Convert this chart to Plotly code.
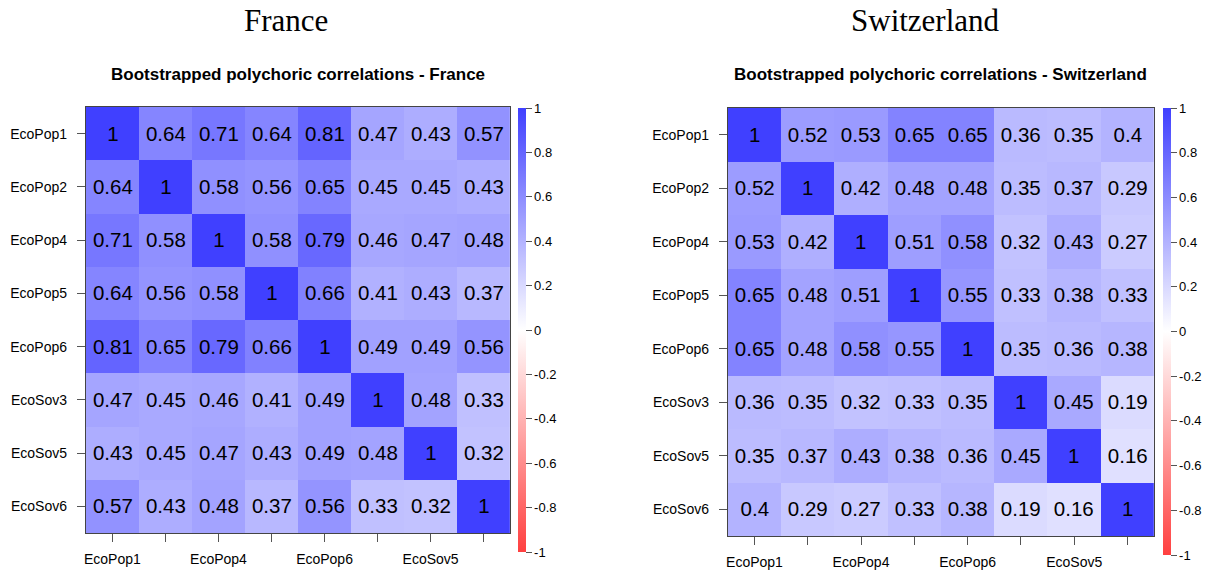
import plotly.graph_objects as go

variables = ["EcoPop1", "EcoPop2", "EcoPop4", "EcoPop5", "EcoPop6", "EcoSov3", "EcoSov5", "EcoSov6"]
x_tick_labels = ["EcoPop1", "", "EcoPop4", "", "EcoPop6", "", "EcoSov5", ""]

france = [
    [1, 0.64, 0.71, 0.64, 0.81, 0.47, 0.43, 0.57],
    [0.64, 1, 0.58, 0.56, 0.65, 0.45, 0.45, 0.43],
    [0.71, 0.58, 1, 0.58, 0.79, 0.46, 0.47, 0.48],
    [0.64, 0.56, 0.58, 1, 0.66, 0.41, 0.43, 0.37],
    [0.81, 0.65, 0.79, 0.66, 1, 0.49, 0.49, 0.56],
    [0.47, 0.45, 0.46, 0.41, 0.49, 1, 0.48, 0.33],
    [0.43, 0.45, 0.47, 0.43, 0.49, 0.48, 1, 0.32],
    [0.57, 0.43, 0.48, 0.37, 0.56, 0.33, 0.32, 1],
]

switzerland = [
    [1, 0.52, 0.53, 0.65, 0.65, 0.36, 0.35, 0.4],
    [0.52, 1, 0.42, 0.48, 0.48, 0.35, 0.37, 0.29],
    [0.53, 0.42, 1, 0.51, 0.58, 0.32, 0.43, 0.27],
    [0.65, 0.48, 0.51, 1, 0.55, 0.33, 0.38, 0.33],
    [0.65, 0.48, 0.58, 0.55, 1, 0.35, 0.36, 0.38],
    [0.36, 0.35, 0.32, 0.33, 0.35, 1, 0.45, 0.19],
    [0.35, 0.37, 0.43, 0.38, 0.36, 0.45, 1, 0.16],
    [0.4, 0.29, 0.27, 0.33, 0.38, 0.19, 0.16, 1],
]

W, H = 1221, 574
colorscale = [[0.0, "#FF4040"], [0.5, "#FFFFFF"], [1.0, "#4040FF"]]


def fmt(v):
    return f"{v:g}"


def px_x(p):
    return p / W


def px_y(p):
    return 1 - p / H


fig = go.Figure()

panels = [
    dict(z=france, xa="x", ya="y", left=84, right=509, top=107, bottom=533,
         cb_x=517, cb_top=108, cb_bot=552),
    dict(z=switzerland, xa="x2", ya="y2", left=727, right=1154, top=108, bottom=536,
         cb_x=1163, cb_top=108, cb_bot=555),
]

for p in panels:
    fig.add_trace(go.Heatmap(
        z=p["z"], x=variables, y=variables,
        text=[[fmt(v) for v in row] for row in p["z"]],
        texttemplate="%{text}",
        textfont=dict(family="Liberation Sans, Arial", size=20.5, color="black"),
        colorscale=colorscale, zmin=-1, zmax=1,
        xaxis=p["xa"], yaxis=p["ya"], xgap=0, ygap=0,
        hoverinfo="skip",
        colorbar=dict(
            x=px_x(p["cb_x"]), xanchor="left", xref="paper",
            y=px_y(p["cb_top"]), yanchor="top", yref="paper",
            len=p["cb_bot"] - p["cb_top"], lenmode="pixels",
            thickness=8, thicknessmode="pixels",
            outlinewidth=0, xpad=0, ypad=0,
            tickmode="array",
            tickvals=[1, 0.8, 0.6, 0.4, 0.2, 0, -0.2, -0.4, -0.6, -0.8, -1],
            ticktext=["1", "0.8", "0.6", "0.4", "0.2", "0", "-0.2", "-0.4", "-0.6", "-0.8", "-1"],
            ticks="outside", ticklen=6, tickcolor="#555",
            tickfont=dict(family="Liberation Sans, Arial", size=13, color="black"),
        ),
    ))

axis_common = dict(
    showline=True, mirror=True, linecolor="#444", linewidth=1,
    ticks="outside", ticklen=8, tickcolor="#555",
    showgrid=False, zeroline=False, fixedrange=True,
    tickfont=dict(family="Liberation Sans, Arial", size=14, color="black"),
)

layout = dict(
    width=W, height=H,
    margin=dict(l=0, r=0, t=0, b=0),
    paper_bgcolor="white", plot_bgcolor="white",
    showlegend=False,
)

for i, p in enumerate(panels):
    sx = "" if i == 0 else str(i + 1)
    layout["xaxis" + sx] = dict(
        axis_common, domain=[px_x(p["left"]), px_x(p["right"])],
        anchor="y" + sx, tickmode="array", tickvals=variables, ticktext=x_tick_labels,
        ticklabelstandoff=5,
    )
    layout["yaxis" + sx] = dict(
        axis_common, domain=[px_y(p["bottom"]), px_y(p["top"])],
        anchor="x" + sx, autorange="reversed", ticklabelstandoff=7,
    )

fig.update_layout(**layout)

titles = [
    ("France", 284, 20),
    ("Switzerland", 925, 20),
]
for text, cx, cy in titles:
    fig.add_annotation(text=text, x=px_x(cx), y=px_y(cy), xref="paper", yref="paper",
                       xanchor="center", yanchor="middle", showarrow=False,
                       font=dict(family="Liberation Serif, serif", size=31, color="black"))

subtitles = [
    ("Bootstrapped polychoric correlations - France", 296, 74),
    ("Bootstrapped polychoric correlations - Switzerland", 940, 74),
]
for text, cx, cy in subtitles:
    fig.add_annotation(text="<b>" + text + "</b>", x=px_x(cx), y=px_y(cy), xref="paper", yref="paper",
                       xanchor="center", yanchor="middle", showarrow=False,
                       font=dict(family="Liberation Sans, Arial", size=17, color="black"))

fig.write_html("out.html")
